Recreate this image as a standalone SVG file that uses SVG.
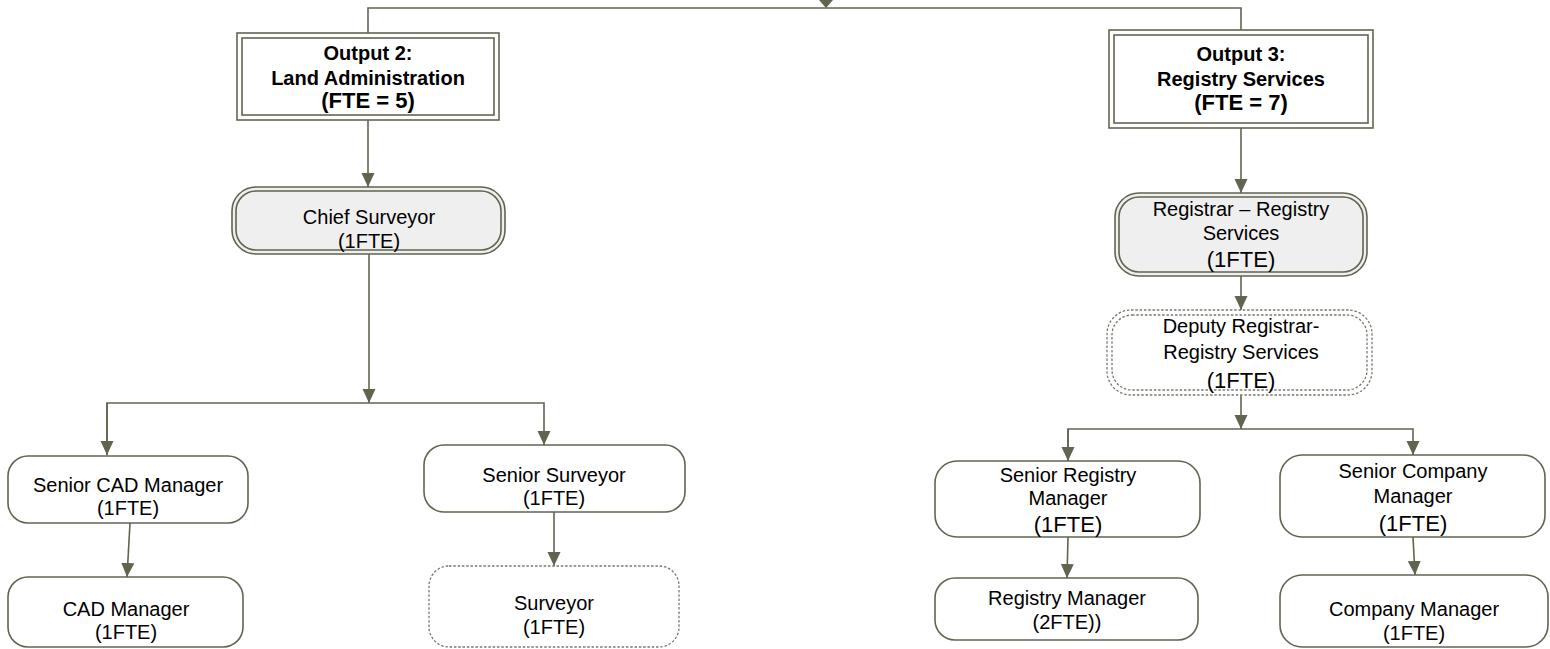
<svg xmlns="http://www.w3.org/2000/svg" width="1550" height="649" viewBox="0 0 1550 649">
  <style>
    .line { fill: none; stroke: #626450; stroke-width: 1.6; }
    .box { fill: #ffffff; stroke: #626450; stroke-width: 1.6; }
    .grey { fill: #efefef; }
    .dot { fill: #ffffff; stroke: #7a7a70; stroke-width: 1.3; stroke-dasharray: 2.5 1.8; }
    .dotin { fill: none; stroke: #7a7a70; stroke-width: 1.3; stroke-dasharray: 2.5 1.8; }
    text { font-family: "Liberation Sans", Arial, sans-serif; fill: #000000; text-anchor: middle; }
    .t { font-size: 20px; }
    .tl { font-size: 22px; }
    .h { font-size: 20px; font-weight: bold; }
    .hl { font-size: 22px; font-weight: bold; }
  </style>
  <defs>
    <marker id="arrow" markerUnits="userSpaceOnUse" markerWidth="14" markerHeight="14" refX="14" refY="6.5" orient="auto">
      <path d="M0,0 L14,6.5 L0,13 z" fill="#626450"/>
    </marker>
  </defs>

  <!-- connectors -->
  <g id="connectors">
    <path class="line" d="M368,33 V8 H1241 V30"/>
    <path d="M819,0 L833,0 L826,8 z" fill="#626450"/>
    <path class="line" d="M368,120 V187" marker-end="url(#arrow)"/>
    <path class="line" d="M369,254 V403" marker-end="url(#arrow)"/>
    <path class="line" d="M107,455 V403 H544 V445" marker-end="url(#arrow)"/>
    <path class="line" d="M107,403 V455" marker-end="url(#arrow)"/>
    <path class="line" d="M130,523 L127,577" marker-end="url(#arrow)"/>
    <path class="line" d="M554,512 V566" marker-end="url(#arrow)"/>
    <path class="line" d="M1241,128 V193" marker-end="url(#arrow)"/>
    <path class="line" d="M1241,276 V310" marker-end="url(#arrow)"/>
    <path class="line" d="M1241,395 V429" marker-end="url(#arrow)"/>
    <path class="line" d="M1068,461 V429 H1413 V455" marker-end="url(#arrow)"/>
    <path class="line" d="M1068,429 V461" marker-end="url(#arrow)"/>
    <path class="line" d="M1068,537 L1067,578" marker-end="url(#arrow)"/>
    <path class="line" d="M1413,537 L1415,575" marker-end="url(#arrow)"/>
  </g>

  <g id="output2">
    <rect class="box" x="237" y="33" width="262" height="87" stroke-width="2"/>
    <rect class="box" x="242" y="38" width="252" height="77"/>
    <text class="h" x="368" y="60">Output 2:</text>
    <text class="h" x="368" y="85">Land Administration</text>
    <text class="hl" x="368" y="108">(FTE = 5)</text>
  </g>

  <g id="output3">
    <rect class="box" x="1109" y="30" width="264" height="98" stroke-width="2"/>
    <rect class="box" x="1114" y="35" width="254" height="88"/>
    <text class="h" x="1241" y="61">Output 3:</text>
    <text class="h" x="1241" y="86">Registry Services</text>
    <text class="hl" x="1241" y="110">(FTE = 7)</text>
  </g>

  <g id="chief-surveyor">
    <rect class="box grey" x="232" y="187" width="273" height="67" rx="24"/>
    <rect class="box grey" x="236" y="191" width="265" height="59" rx="20"/>
    <text class="t" x="369" y="224">Chief Surveyor</text>
    <text class="t" x="369" y="248">(1FTE)</text>
  </g>

  <g id="registrar">
    <rect class="box grey" x="1115" y="193" width="252" height="83" rx="24"/>
    <rect class="box grey" x="1119" y="197" width="244" height="75" rx="20"/>
    <text class="t" x="1241" y="216">Registrar – Registry</text>
    <text class="t" x="1241" y="240">Services</text>
    <text class="tl" x="1241" y="267">(1FTE)</text>
  </g>

  <g id="deputy-registrar">
    <rect class="dot" x="1107" y="310" width="265" height="85" rx="24"/>
    <rect class="dotin" x="1112" y="315" width="255" height="75" rx="20"/>
    <text class="t" x="1241" y="333">Deputy Registrar-</text>
    <text class="t" x="1241" y="359">Registry Services</text>
    <text class="tl" x="1241" y="388">(1FTE)</text>
  </g>

  <g id="senior-cad-manager">
    <rect class="box" x="8" y="456" width="240" height="67" rx="20"/>
    <text class="t" x="128" y="492">Senior CAD Manager</text>
    <text class="t" x="128" y="515">(1FTE)</text>
  </g>

  <g id="cad-manager">
    <rect class="box" x="8" y="577" width="235" height="70" rx="20"/>
    <text class="t" x="126" y="616">CAD Manager</text>
    <text class="t" x="126" y="639">(1FTE)</text>
  </g>

  <g id="senior-surveyor">
    <rect class="box" x="424" y="445" width="261" height="67" rx="20"/>
    <text class="t" x="554" y="482">Senior Surveyor</text>
    <text class="t" x="554" y="505">(1FTE)</text>
  </g>

  <g id="surveyor">
    <rect class="dot" x="429" y="566" width="250" height="81" rx="20"/>
    <text class="t" x="554" y="610">Surveyor</text>
    <text class="t" x="554" y="634">(1FTE)</text>
  </g>

  <g id="senior-registry-manager">
    <rect class="box" x="935" y="461" width="265" height="76" rx="22"/>
    <text class="t" x="1068" y="482">Senior Registry</text>
    <text class="t" x="1068" y="505">Manager</text>
    <text class="tl" x="1068" y="532">(1FTE)</text>
  </g>

  <g id="registry-manager">
    <rect class="box" x="935" y="578" width="263" height="62" rx="20"/>
    <text class="t" x="1067" y="605">Registry Manager</text>
    <text class="t" x="1067" y="629">(2FTE))</text>
  </g>

  <g id="senior-company-manager">
    <rect class="box" x="1280" y="455" width="265" height="82" rx="22"/>
    <text class="t" x="1413" y="478">Senior Company</text>
    <text class="t" x="1413" y="503">Manager</text>
    <text class="tl" x="1413" y="531">(1FTE)</text>
  </g>

  <g id="company-manager">
    <rect class="box" x="1280" y="575" width="268" height="72" rx="22"/>
    <text class="t" x="1414" y="616">Company Manager</text>
    <text class="t" x="1414" y="640">(1FTE)</text>
  </g>
</svg>
